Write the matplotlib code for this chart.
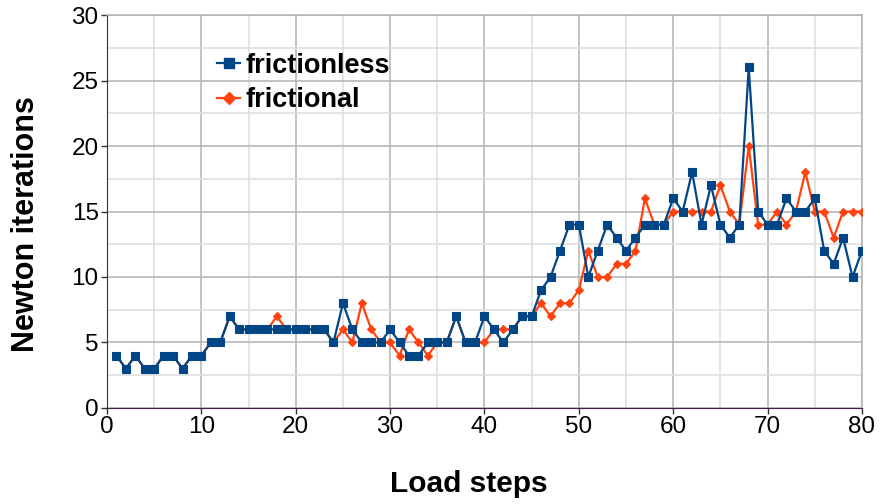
import numpy as np
import matplotlib.pyplot as plt
from matplotlib.ticker import MultipleLocator
from matplotlib.lines import Line2D

plt.rcParams['font.family'] = ['Liberation Sans', 'DejaVu Sans']

steps = list(range(1, 81))
frictionless = [4, 3, 4, 3, 3, 4, 4, 3, 4, 4,
                5, 5, 7, 6, 6, 6, 6, 6, 6, 6,
                6, 6, 6, 5, 8, 6, 5, 5, 5, 6,
                5, 4, 4, 5, 5, 5, 7, 5, 5, 7,
                6, 5, 6, 7, 7, 9, 10, 12, 14, 14,
                10, 12, 14, 13, 12, 13, 14, 14, 14, 16,
                15, 18, 14, 17, 14, 13, 14, 26, 15, 14,
                14, 16, 15, 15, 16, 12, 11, 13, 10, 12]
frictional = [4, 3, 4, 3, 3, 4, 4, 3, 4, 4,
              5, 5, 7, 6, 6, 6, 6, 7, 6, 6,
              6, 6, 6, 5, 6, 5, 8, 6, 5, 5,
              4, 6, 5, 4, 5, 5, 7, 5, 5, 5,
              6, 6, 6, 7, 7, 8, 7, 8, 8, 9,
              12, 10, 10, 11, 11, 12, 16, 14, 14, 15,
              15, 15, 15, 15, 17, 15, 14, 20, 14, 14,
              15, 14, 15, 18, 15, 15, 13, 15, 15, 15]

blue = '#004586'
orange = '#ff420e'

fig = plt.figure(figsize=(8.8, 5.04), dpi=100)
ax = fig.add_axes([0.1216, 0.1905, 0.8579, 0.7797])

ax.plot(steps, frictional, color=orange, lw=1.6, marker='D', ms=4.5, mew=0.8, zorder=3)
ax.plot(steps, frictionless, color=blue, lw=1.6, marker='s', ms=5.5, mew=0.8, zorder=4)

ax.set_xlim(0, 80)
ax.set_ylim(0, 30)
ax.xaxis.set_major_locator(MultipleLocator(10))
ax.xaxis.set_minor_locator(MultipleLocator(5))
ax.yaxis.set_major_locator(MultipleLocator(5))
ax.yaxis.set_minor_locator(MultipleLocator(2.5))
ax.grid(which='major', color='#b3b3b3', lw=1.1, zorder=0)
ax.grid(which='minor', color='#dddddd', lw=1.1, zorder=0)
ax.set_axisbelow(True)

for side in ['top', 'right']:
    ax.spines[side].set_color('#b3b3b3')
    ax.spines[side].set_linewidth(1.1)
ax.spines['left'].set_color('#333333')
ax.spines['bottom'].set_color('#3f1f3f')
ax.tick_params(which='major', direction='out', length=4, width=1,
               labelsize=17.5, color='#333333', pad=2)
ax.tick_params(which='minor', length=0)

ax.set_xlabel('Load steps', fontsize=21.5, fontweight='bold', va='center')
ax.set_ylabel('Newton iterations', fontsize=22, fontweight='bold', va='center')
ax.xaxis.set_label_coords(0.479, -0.194)
ax.yaxis.set_label_coords(-0.107, 0.469)

handles = [Line2D([], [], color=blue, lw=1.6, marker='s', ms=7.5),
           Line2D([], [], color=orange, lw=1.6, marker='D', ms=6.5)]
ax.legend(handles, ['frictionless', 'frictional'], loc='center left',
          bbox_to_anchor=(0.1457, 0.827), frameon=False, handlelength=0.85,
          handletextpad=0.22, labelspacing=0.32, borderpad=0, borderaxespad=0,
          prop={'weight': 'bold', 'size': 19.5})

fig.savefig('out.png', dpi=100)
